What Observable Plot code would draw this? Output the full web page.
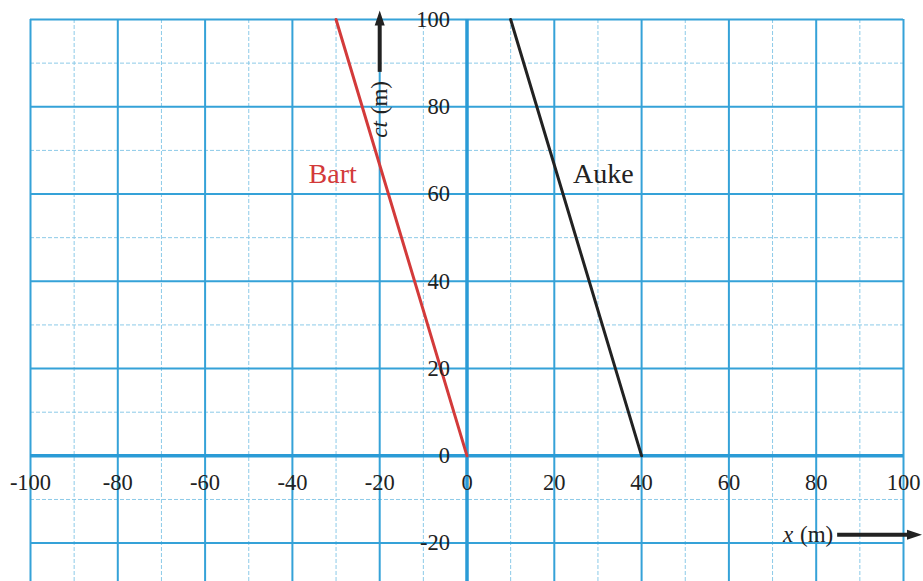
<!DOCTYPE html>
<html>
<head>
<meta charset="utf-8">
<script src="https://cdn.jsdelivr.net/npm/d3@7"></script>
<script src="https://cdn.jsdelivr.net/npm/@observablehq/plot@0.6"></script>
<style>
  html, body { margin: 0; padding: 0; background: #fff; }
</style>
</head>
<body>
<div id="chart"></div>
<script>
// World lines in a spacetime diagram: position x (m) against ct (m)
const names = ["Bart", "Auke"];
const bartX = [0, -30];
const bartCt = [0, 100];
const aukeX = [40, 10];
const aukeCt = [0, 100];

// Tick labels along the axes
const xTicks = [-100, -80, -60, -40, -20, 0, 20, 40, 60, 80, 100];
const yTicks = [-20, 0, 20, 40, 60, 80, 100];

// Visible window of the diagram
const xMin = -100, xMax = 100;
const yMin = -28.8, yMax = 100;

// Graph-paper grid: majors every 20 m, minors every 10 m
const minorX = d3.range(xMin, xMax + 1, 10).filter(v => v % 20 !== 0);
const majorX = d3.range(xMin, xMax + 1, 20).filter(v => v !== 0);
const minorY = d3.range(-20, yMax + 1, 10).filter(v => v % 20 !== 0);
const majorY = d3.range(-20, yMax + 1, 20).filter(v => v !== 0);

const bart = bartX.map((x, i) => ({x, ct: bartCt[i]}));
const auke = aukeX.map((x, i) => ({x, ct: aukeCt[i]}));

const gridMinor = "#8ccae8";
const gridMajor = "#35a2d8";
const axisBlue = "#2a9bd6";
const ink = "#222";
const red = "#d33a3a";

// Filled, narrow arrow head; tip points up (rotate to turn it)
const arrowHead = {
  draw(ctx) {
    ctx.moveTo(0, -15);
    ctx.lineTo(5, 0);
    ctx.lineTo(-5, 0);
    ctx.closePath();
  }
};

const one = [0];

const chart = Plot.plot({
  width: 923,
  height: 581,
  marginLeft: 30,
  marginRight: 20,
  marginTop: 19,
  marginBottom: 0,
  x: {domain: [xMin, xMax], axis: null},
  y: {domain: [yMin, yMax], axis: null},
  style: {background: "#fff", fontFamily: "'Liberation Serif', serif"},
  marks: [
    // minor grid
    Plot.ruleX(minorX, {x: d => d, y1: yMin, y2: yMax, stroke: gridMinor, strokeWidth: 1, strokeDasharray: "4,2"}),
    Plot.ruleY(minorY, {y: d => d, x1: xMin, x2: xMax, stroke: gridMinor, strokeWidth: 1, strokeDasharray: "4,2"}),
    // major grid
    Plot.ruleX(majorX, {x: d => d, y1: yMin, y2: yMax, stroke: gridMajor, strokeWidth: 2}),
    Plot.ruleY(majorY, {y: d => d, x1: xMin, x2: xMax, stroke: gridMajor, strokeWidth: 2}),
    // axes through the origin
    Plot.ruleX(one, {x: 0, y1: yMin, y2: yMax, stroke: axisBlue, strokeWidth: 3.5}),
    Plot.ruleY(one, {y: 0, x1: xMin, x2: xMax, stroke: axisBlue, strokeWidth: 3.5}),
    // world lines
    Plot.line(bart, {x: "x", y: "ct", stroke: red, strokeWidth: 3}),
    Plot.line(auke, {x: "x", y: "ct", stroke: ink, strokeWidth: 3}),
    // tick labels
    Plot.text(xTicks, {x: d => d, y: 0, dy: 27, text: d => String(d), fontSize: 22.5, fill: ink}),
    Plot.text(yTicks, {x: 0, y: d => d, dx: -17, textAnchor: "end", text: d => String(d), fontSize: 22.5, fill: ink}),
    // line names
    Plot.text(one, {x: -36.3, y: 64.5, text: () => names[0], textAnchor: "start", fontSize: 28, fill: red}),
    Plot.text(one, {x: 24.3, y: 64.5, text: () => names[1], textAnchor: "start", fontSize: 28, fill: ink}),
    // ct axis arrow and label
    Plot.link(one, {x1: -20, y1: 88, x2: -20, y2: 99.5, stroke: ink, strokeWidth: 4}),
    Plot.dot(one, {x: -20, y: 98.6, symbol: arrowHead, r: 5, fill: ink, stroke: "none"}),
    Plot.text(one, {x: -20, y: 72.9, text: () => "ct", rotate: -90, textAnchor: "start", fontStyle: "italic", fontSize: 23, fill: ink}),
    Plot.text(one, {x: -20, y: 85.9, text: () => "(m)", rotate: -90, textAnchor: "end", fontSize: 23, fill: ink}),
    // x axis arrow and label
    Plot.link(one, {x1: 84.8, y1: -18.1, x2: 101.5, y2: -18.1, stroke: ink, strokeWidth: 4}),
    Plot.dot(one, {x: 100.8, y: -18.1, symbol: arrowHead, r: 5, rotate: 90, fill: ink, stroke: "none"}),
    Plot.text(one, {x: 72.4, y: -18.1, text: () => "x", textAnchor: "start", fontStyle: "italic", fontSize: 23, fill: ink}),
    Plot.text(one, {x: 83.9, y: -18.1, text: () => "(m)", textAnchor: "end", fontSize: 23, fill: ink})
  ]
});

document.getElementById("chart").appendChild(chart);
</script>
</body>
</html>
